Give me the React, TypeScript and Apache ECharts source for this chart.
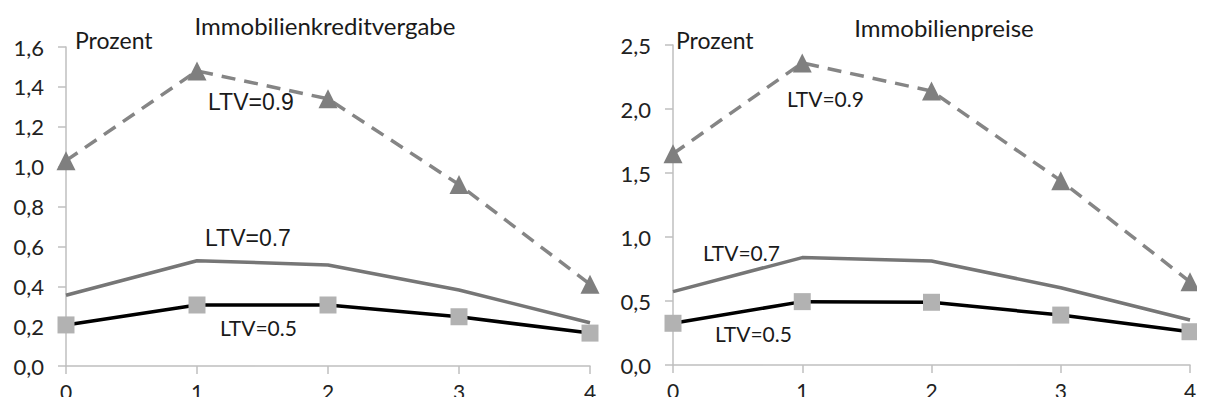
import React, { useEffect, useRef } from "react";
import * as echarts from "echarts";

const categories = ["0", "1", "2", "3", "4"];

const kreditLTV09 = [1.03, 1.48, 1.34, 0.91, 0.41];
const kreditLTV07 = [0.355, 0.528, 0.507, 0.381, 0.217];
const kreditLTV05 = [0.206, 0.306, 0.306, 0.247, 0.165];

const preiseLTV09 = [1.65, 2.36, 2.14, 1.44, 0.65];
const preiseLTV07 = [0.573, 0.839, 0.812, 0.604, 0.352];
const preiseLTV05 = [0.326, 0.495, 0.49, 0.39, 0.26];

const titles = ["Immobilienkreditvergabe", "Immobilienpreise"];
const unitLabel = "Prozent";
const seriesNames = ["LTV=0.9", "LTV=0.7", "LTV=0.5"];

const FONT = "Lato, 'Open Sans', sans-serif";
const FONT2 = "'Liberation Sans', Arial, sans-serif";

export default function App() {
  const ref = useRef<HTMLDivElement>(null);
  useEffect(() => {
    if (!ref.current) return;
    const chart = echarts.init(ref.current, undefined, { renderer: "svg" });
    const axisLine = { show: true, lineStyle: { color: "#bfbfbf", width: 1.5 } };
    const tick = { show: true, length: 8, lineStyle: { color: "#bfbfbf", width: 1.5 } };
    const fmt = (v: number) => v.toFixed(1).replace(".", ",");
    const xAxis = (gi: number) => ({
      type: "category",
      gridIndex: gi,
      data: categories,
      boundaryGap: false,
      axisLine,
      axisTick: tick,
      axisLabel: { color: "#222", fontSize: 21, fontFamily: FONT, margin: 15 },
      splitLine: { show: false },
    });
    const yAxis = (gi: number, max: number, interval: number) => ({
      type: "value",
      gridIndex: gi,
      min: 0,
      max,
      interval,
      axisLine,
      axisTick: tick,
      axisLabel: { color: "#222", fontSize: 22, fontFamily: FONT, margin: 22, formatter: fmt },
      splitLine: { show: false },
    });
    const mk = (gi: number, d9: number[], d7: number[], d5: number[]) => [
      {
        name: seriesNames[0],
        type: "line",
        xAxisIndex: gi,
        yAxisIndex: gi,
        data: d9,
        lineStyle: { color: "#858585", width: 3.5, type: [14, 9] },
        symbol: "triangle",
        symbolSize: 19,
        itemStyle: { color: "#7f7f7f" },
        z: 3,
      },
      {
        name: seriesNames[1],
        type: "line",
        xAxisIndex: gi,
        yAxisIndex: gi,
        data: d7,
        lineStyle: { color: "#767676", width: 3.5 },
        symbol: "none",
        z: 2,
      },
      {
        name: seriesNames[2],
        type: "line",
        xAxisIndex: gi,
        yAxisIndex: gi,
        data: d5,
        lineStyle: { color: "#000000", width: 3.5 },
        symbol: "rect",
        symbolSize: 17,
        itemStyle: { color: "#b2b2b2" },
        z: 4,
      },
    ];
    const text = (x: number, y: number, t: string, size: number, font: string, align = "left") => ({
      type: "text",
      x,
      y,
      style: { text: t, fontSize: size, fontFamily: font, fill: "#1a1a1a", textAlign: align, textVerticalAlign: "middle" },
    });
    chart.setOption({
      animation: false,
      backgroundColor: "#ffffff",
      grid: [
        { left: 66, top: 47, width: 524, height: 319 },
        { left: 673, top: 45, width: 517, height: 320 },
      ],
      xAxis: [xAxis(0), xAxis(1)],
      yAxis: [yAxis(0, 1.6, 0.2), yAxis(1, 2.5, 0.5)],
      series: [
        ...mk(0, kreditLTV09, kreditLTV07, kreditLTV05),
        ...mk(1, preiseLTV09, preiseLTV07, preiseLTV05),
      ],
      graphic: [
        text(325, 25, titles[0], 24, FONT, "center"),
        text(944, 27, titles[1], 24, FONT, "center"),
        text(75, 40, unitLabel, 23, FONT),
        text(676, 40, unitLabel, 23, FONT),
        text(208, 102, seriesNames[0], 23, FONT2),
        text(205, 238, seriesNames[1], 23, FONT2),
        text(220, 327, seriesNames[2], 21, FONT),
        text(787, 98, seriesNames[0], 21, FONT),
        text(703, 252, seriesNames[1], 21, FONT),
        text(715, 333, seriesNames[2], 21, FONT),
      ],
    });
    return () => chart.dispose();
  }, []);
  return <div ref={ref} style={{ width: 1205, height: 405, margin: -8 }} />;
}
